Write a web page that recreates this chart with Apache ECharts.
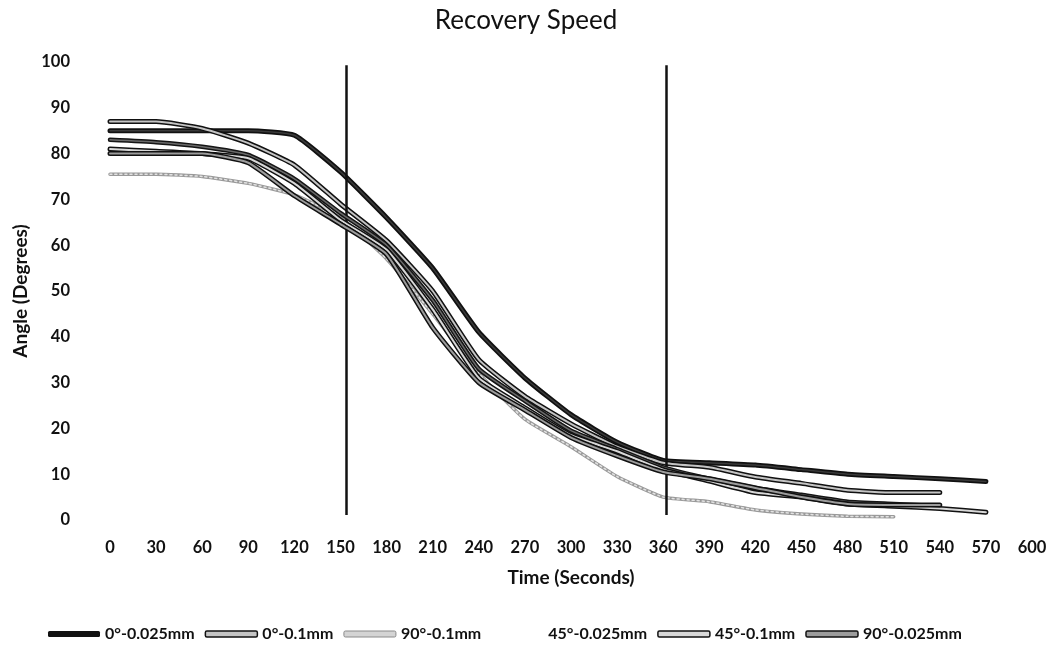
<!DOCTYPE html>
<html>
<head>
<meta charset="utf-8">
<title>Recovery Speed</title>
<script src="https://cdn.jsdelivr.net/npm/echarts@6/dist/echarts.min.js"></script>
<style>
  html, body { margin: 0; padding: 0; background: #fff; }
  #main { width: 1052px; height: 653px; }
</style>
</head>
<body>
<div id="main"></div>
<script>
// time in seconds (x), angle in degrees (y)
var timeSec = [0, 30, 60, 90, 120, 150, 180, 210, 240, 270, 300, 330, 360, 390, 420, 450, 480, 510, 540, 570];
var seriesNames = ['0°-0.025mm', '0°-0.1mm', '90°-0.1mm', '45°-0.025mm', '45°-0.1mm', '90°-0.025mm'];

var deg0_025 = [85, 85, 85, 85, 84, 76, 66, 55, 41, 31, 23, 17, 13, 12.5, 12, 11, 10, 9.5, 9, 8.4];
var deg0_1 = [87, 87, 85.5, 82.3, 77.5, 69, 61, 50, 35, 27, 21, 16, 12.5, 11.5, 9.4, 8, 6.5, 6, 6, null];
var deg90_1 = [75.5, 75.5, 75, 73.5, 71, 66, 57, 45, 32, 22, 16, 9.5, 5, 4, 2.2, 1.3, 0.8, 0.7, null, null];
var deg45_025 = [83, 82.5, 81.5, 79.7, 74.5, 67, 60, 48, 33, 26, 19.5, 15.5, 11.5, 9, 7, 5.5, 4, 3.5, 3, null];
var deg45_1 = [81, 80.5, 80, 79, 73.5, 65.5, 59, 46, 31, 24.5, 18.5, 15, 11, 8.5, 6, 5, 3.5, 3, 2.5, 1.7];
var deg90_025 = [80, 80, 80, 78, 70.8, 64.6, 58, 42, 30, 24, 18, 14, 10.5, 9, 7, 5, 3.5, 3.3, 3.3, null];

// the two hand drawn vertical marks (seconds)
var markTimes = [154, 362];

var xTicks = [0, 600, 30];   // min, max, step
var yTicks = [0, 100, 10];

var allValues = [deg0_025, deg0_1, deg90_1, deg45_025, deg45_1, deg90_025];

// outline look of the scanned lines: dark outer stroke + lighter core
var looks = [
  { outer: '#111', inner: '#3a3a3a', ow: 5, iw: 1.5, icon: { color: '#111' } },
  { outer: '#111', inner: '#c4c4c4', ow: 5, iw: 2, icon: { color: '#c4c4c4', borderColor: '#111', borderWidth: 1.5 } },
  { outer: '#9a9a9a', inner: '#e2e2e2', ow: 3.5, iw: 1.5, dash: [2, 3], icon: { color: '#d4d4d4', borderColor: '#8a8a8a', borderWidth: 1 } },
  { outer: '#151515', inner: '#6a6a6a', ow: 4.5, iw: 1.5, icon: { color: 'rgba(255,255,255,0)' } },
  { outer: '#111', inner: '#d8d8d8', ow: 5, iw: 2, icon: { color: '#d8d8d8', borderColor: '#111', borderWidth: 1.5 } },
  { outer: '#111', inner: '#9c9c9c', ow: 5, iw: 2, icon: { color: '#9c9c9c', borderColor: '#111', borderWidth: 1.5 } }
];

function toPairs(vals) {
  var out = [];
  for (var i = 0; i < vals.length; i++) {
    if (vals[i] != null) out.push([timeSec[i], vals[i]]);
  }
  return out;
}

var series = [];
seriesNames.forEach(function (name, k) {
  var lk = looks[k];
  var pts = toPairs(allValues[k]);
  series.push({
    name: name, type: 'line', data: pts, showSymbol: false, smooth: 0.15,
    lineStyle: { color: lk.outer, width: lk.ow, cap: 'round', join: 'round' },
    itemStyle: { color: lk.outer },
    emphasis: { disabled: true }, z: 2 + k
  });
  series.push({
    name: name, type: 'line', data: pts, showSymbol: false, smooth: 0.15, silent: true,
    lineStyle: { color: lk.inner, width: lk.iw, cap: 'round', join: 'round', type: lk.dash || 'solid' },
    emphasis: { disabled: true }, z: 2 + k
  });
});

// vertical marks
series.push({
  type: 'line', data: [], silent: true,
  markLine: {
    symbol: 'none', silent: true, animation: false,
    label: { show: false },
    lineStyle: { color: '#111', width: 2.5, type: 'solid' },
    data: markTimes.map(function (t) {
      return [{ coord: [t, 99.3] }, { coord: [t, 1.1] }];
    })
  },
  z: 20
});

var myChart = echarts.init(document.getElementById('main'));

var fontFam = 'Lato, "Open Sans", sans-serif';

var option = {
  animation: false,
  backgroundColor: '#fff',
  title: {
    text: 'Recovery Speed',
    left: 'center', top: 3,
    textStyle: { fontFamily: fontFam, fontSize: 26, fontWeight: 'normal', color: '#111' }
  },
  legend: {
    data: seriesNames.map(function (n, k) { return { name: n, itemStyle: looks[k].icon }; }),
    left: 43, top: 621,
    icon: 'roundRect',
    itemWidth: 52, itemHeight: 6, itemGap: 10,
    textStyle: { fontFamily: fontFam, fontSize: 16, color: '#111', fontWeight: 'bold' }
  },
  grid: { left: 110, right: 20, top: 62, bottom: 133 },
  xAxis: {
    type: 'value', min: xTicks[0], max: xTicks[1], interval: xTicks[2],
    name: 'Time (Seconds)', nameLocation: 'middle', nameGap: 48,
    nameTextStyle: { fontFamily: fontFam, fontSize: 19, color: '#111', fontWeight: 'bold' },
    axisLine: { show: false }, axisTick: { show: false }, splitLine: { show: false },
    axisLabel: { margin: 19, fontFamily: fontFam, fontSize: 16.5, color: '#111', fontWeight: 'bold' }
  },
  yAxis: {
    type: 'value', min: yTicks[0], max: yTicks[1], interval: yTicks[2],
    name: 'Angle (Degrees)', nameLocation: 'middle', nameGap: 76,
    nameTextStyle: { fontFamily: fontFam, fontSize: 19, color: '#111', fontWeight: 'bold' },
    axisLine: { show: false }, axisTick: { show: false }, splitLine: { show: false },
    axisLabel: { margin: 40, fontFamily: fontFam, fontSize: 16.5, color: '#111', fontWeight: 'bold' }
  },
  series: series
};

myChart.setOption(option);
</script>
</body>
</html>
